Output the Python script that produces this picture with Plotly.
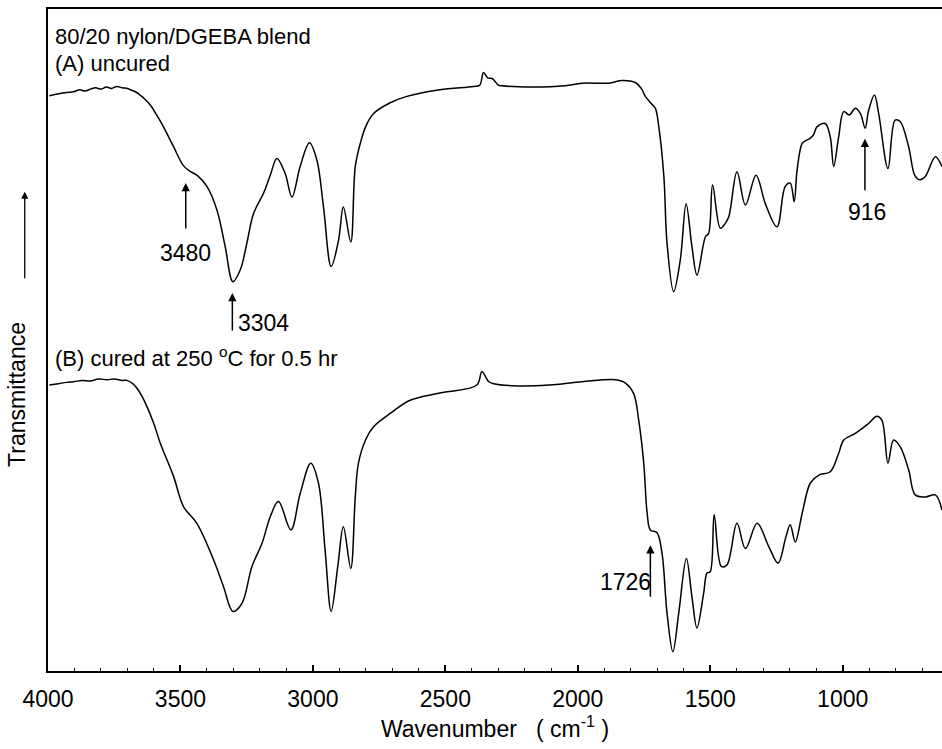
import plotly.graph_objects as go

# FTIR spectra of an 80/20 nylon/DGEBA blend (transmittance, arbitrary units)
wn_a = [3995, 3960, 3930, 3903, 3880, 3860, 3840, 3820, 3800, 3780, 3760, 3740, 3720,
        3700, 3689, 3670, 3652, 3635, 3614, 3590, 3564, 3526, 3488, 3460, 3438, 3400,
        3362, 3331, 3302, 3274, 3250, 3224, 3186, 3160, 3136, 3105, 3079, 3048, 3013,
        2985, 2960, 2931, 2903, 2885, 2857, 2840, 2821, 2800, 2771, 2710, 2645, 2520,
        2394, 2370, 2356, 2340, 2323, 2300, 2286, 2172, 2047, 1984, 1883, 1833, 1783,
        1760, 1745, 1720, 1707, 1694, 1675, 1663, 1638, 1613, 1591, 1569, 1550, 1518,
        1506, 1491, 1462, 1445, 1430, 1399, 1367, 1327, 1292, 1248, 1217, 1198, 1183,
        1172, 1153, 1140, 1122, 1110, 1097, 1066, 1047, 1034, 1015, 996, 975, 952, 933,
        915, 902, 880, 864, 829, 802, 783, 751, 728, 710, 688, 650, 625]
trans_a = [86.9, 87.2, 87.4, 87.5, 87.8, 87.6, 87.9, 88.1, 87.9, 88.2, 88.0, 88.3, 88.1,
           88.0, 87.8, 87.5, 87.0, 86.4, 85.5, 84.0, 82.2, 79.2, 76.3, 75.4, 74.9, 73.2,
           69.6, 64.1, 58.8, 60.6, 64.5, 69.1, 72.2, 75.0, 77.4, 75.2, 71.6, 76.2, 79.8,
           77.2, 70.1, 61.1, 65.1, 70.1, 64.8, 76.2, 79.7, 82.3, 84.2, 85.8, 86.8, 87.8,
           88.3, 88.5, 90.4, 89.6, 89.5, 88.5, 88.4, 88.2, 88.4, 88.8, 88.8, 89.2, 88.9,
           88.0, 86.8, 85.6, 85.0, 82.2, 74.7, 64.6, 57.3, 62.1, 70.6, 64.1, 59.8, 65.6,
           66.1, 73.4, 66.9, 67.5, 68.6, 75.4, 70.4, 74.9, 70.6, 67.1, 73.2, 73.7, 70.9,
           75.7, 79.7, 80.1, 80.5, 81.0, 82.2, 82.7, 80.7, 76.2, 80.7, 84.5, 84.0, 85.0, 84.2,
           82.0, 84.7, 87.0, 84.2, 75.9, 83.2, 83.0, 79.2, 74.9, 74.2, 74.7, 77.7, 76.2]

wn_b = [3995, 3960, 3930, 3903, 3870, 3840, 3810, 3777, 3750, 3720, 3702, 3680, 3664,
        3645, 3626, 3600, 3576, 3526, 3488, 3438, 3375, 3337, 3302, 3268, 3230, 3192,
        3161, 3130, 3083, 3048, 3008, 2979, 2954, 2931, 2906, 2885, 2857, 2840, 2828,
        2800, 2771, 2708, 2633, 2520, 2381, 2362, 2336, 2318, 2248, 2109, 1984, 1858,
        1820, 1789, 1770, 1751, 1738, 1726, 1701, 1682, 1663, 1641, 1619, 1590, 1569,
        1550, 1525, 1512, 1500, 1485, 1458, 1437, 1399, 1367, 1323, 1279, 1244, 1214,
        1198, 1179, 1153, 1122, 1090, 1047, 1015, 996, 952, 902, 871, 852, 829, 808,
        783, 751, 726, 688, 650, 625]
trans_b = [43.2, 43.4, 43.6, 43.7, 43.9, 43.8, 44.1, 44.0, 44.1, 43.9, 43.9, 43.4, 42.7,
           41.5, 39.9, 37.3, 34.4, 29.4, 24.8, 22.3, 16.8, 12.7, 9.0, 10.2, 15.8, 19.3,
           23.3, 25.6, 21.3, 26.8, 31.4, 28.4, 18.3, 9.0, 15.8, 21.8, 15.5, 26.3, 31.4,
           35.0, 36.9, 38.9, 40.9, 42.0, 43.2, 45.2, 43.7, 43.4, 43.1, 43.2, 43.7, 44.0,
           43.5, 41.9, 37.9, 31.4, 23.8, 21.3, 20.9, 17.8, 8.7, 2.9, 8.7, 17.0, 11.2,
           6.5, 11.7, 14.8, 15.0, 23.6, 15.8, 16.0, 22.3, 18.5, 22.3, 18.8, 16.3, 20.3,
           22.1, 19.5, 23.8, 28.4, 29.6, 30.1, 32.9, 34.9, 35.9, 37.4, 38.5, 37.9, 31.4, 34.9,
           33.9, 30.4, 26.6, 26.3, 26.6, 24.3]

major_ticks = [4000, 3500, 3000, 2500, 2000, 1500, 1000]

# Marked bands: (wavenumber, transmittance at arrow tip, arrow length px, label)
bands = [
    (3480, 73.7, 47, "3480"),
    (3304, 57.1, 39, "3304"),
    (916, 80.4, 53, "916"),
    (1726, 19.0, 53, "1726"),
]

FONT = "Liberation Sans, Arial, Helvetica, sans-serif"
FS = 23

fig = go.Figure()
for wn, tr in [(wn_a, trans_a), (wn_b, trans_b)]:
    fig.add_trace(go.Scatter(
        x=wn, y=tr, mode="lines",
        line=dict(color="black", width=1.5, shape="spline", smoothing=1.0),
        showlegend=False, hoverinfo="skip",
    ))

annotations = []
for wn, tip, length, label in bands:
    annotations.append(dict(
        x=wn, y=tip, xref="x", yref="y", text="", showarrow=True,
        ax=0, ay=length, arrowhead=2, arrowsize=1.1, arrowwidth=1.5,
        arrowcolor="black",
    ))

# Band labels
annotations += [
    dict(x=3480, y=63.2, xref="x", yref="y", text="3480", showarrow=False,
         xanchor="center", yanchor="middle"),
    dict(x=3290, y=52.5, xref="x", yref="y", text="3304", showarrow=False,
         xanchor="left", yanchor="middle"),
    dict(x=910, y=69.3, xref="x", yref="y", text="916", showarrow=False,
         xanchor="center", yanchor="middle"),
    dict(x=1716, y=13.5, xref="x", yref="y", text="1726", showarrow=False,
         xanchor="right", yanchor="middle"),
]

# Sample captions
annotations += [
    dict(x=0.006, y=0.959, xref="paper", yref="paper", text="80/20 nylon/DGEBA blend",
         showarrow=False, xanchor="left", yanchor="middle", font=dict(size=22)),
    dict(x=0.006, y=0.918, xref="paper", yref="paper", text="(A) uncured",
         showarrow=False, xanchor="left", yanchor="middle", font=dict(size=22)),
    dict(x=0.006, y=0.474, xref="paper", yref="paper",
         text="(B) cured at 250 <sup>o</sup>C for 0.5 hr",
         showarrow=False, xanchor="left", yanchor="middle", font=dict(size=22)),
]

# Vertical axis title with direction arrow
annotations += [
    dict(x=-0.034, y=0.418, xref="paper", yref="paper", text="Transmittance",
         textangle=-90, showarrow=False, xanchor="center", yanchor="middle"),
    dict(x=-0.026, y=0.724, xref="paper", yref="paper", text="", showarrow=True,
         ax=0, ay=88, arrowhead=2, arrowsize=1.1, arrowwidth=1.3, arrowcolor="black"),
]

fig.update_layout(
    width=942, height=749,
    margin=dict(l=48, r=0, t=9, b=78),
    paper_bgcolor="white", plot_bgcolor="white",
    font=dict(family=FONT, size=FS, color="black"),
    annotations=annotations,
    xaxis=dict(
        range=[4000, 625], tickvals=major_ticks,
        ticks="inside", ticklen=6, tickwidth=1.5, tickcolor="black",
        minor=dict(dtick=100, ticks="inside", ticklen=3, tickwidth=1.3, tickcolor="black"),
        showline=True, linewidth=2, linecolor="black", mirror=True,
        showgrid=False, zeroline=False,
        ticklabelstandoff=6,
        tickfont=dict(size=FS),
        title=dict(text="Wavenumber   ( cm<sup>-1</sup> )", standoff=10,
                   font=dict(size=FS)),
    ),
    yaxis=dict(
        range=[0, 100], showticklabels=False, ticks="",
        showline=True, linewidth=2, linecolor="black",
        showgrid=False, zeroline=False,
    ),
)

fig.write_html("out.html")
